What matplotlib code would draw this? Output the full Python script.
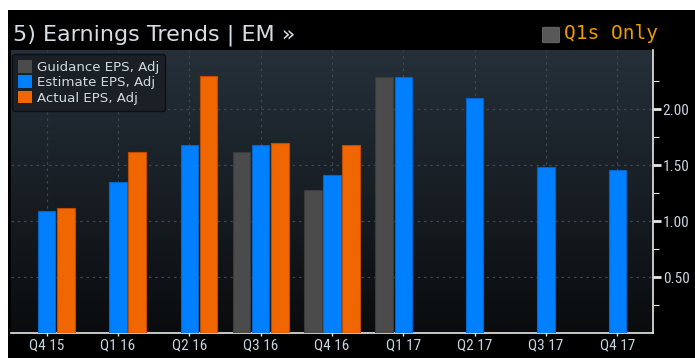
import numpy as np
import matplotlib
matplotlib.use("Agg")
import matplotlib.pyplot as plt
from matplotlib import font_manager
from matplotlib.patches import Rectangle, FancyBboxPatch, Patch

# Chart data
quarters = ["Q4 15", "Q1 16", "Q2 16", "Q3 16", "Q4 16", "Q1 17", "Q2 17", "Q3 17", "Q4 17"]
guidance = [np.nan, np.nan, np.nan, 1.62, 1.28, 2.29, np.nan, np.nan, np.nan]
estimate = [1.09, 1.35, 1.68, 1.68, 1.41, 2.29, 2.10, 1.48, 1.46]
actual = [1.12, 1.62, 2.30, 1.70, 1.68, np.nan, np.nan, np.nan, np.nan]
y_ticks = [0.5, 1.0, 1.5, 2.0]
series_names = ["Guidance EPS, Adj", "Estimate EPS, Adj", "Actual EPS, Adj"]

# pick a narrow font if one is around (tick labels)
names = {f.name for f in font_manager.fontManager.ttflist}
narrow = [n for n in ["Liberation Sans Narrow", "Roboto Condensed", "Open Sans Condensed"] if n in names]
plt.rcParams["font.family"] = narrow + ["DejaVu Sans"]
plt.rcParams["font.stretch"] = "condensed"

W, H = 695, 358
fig = plt.figure(figsize=(W / 100, H / 100), dpi=100, facecolor="white")

# black terminal panel (white strip on top and left like the screenshot)
fig.patches.append(Rectangle((8 / W, 0), 1 - 8 / W, (H - 10) / H,
                             transform=fig.transFigure, facecolor="black",
                             edgecolor="none", zorder=-5))

ax = fig.add_axes([11 / W, 25 / H, (653 - 11) / W, (333 - 50) / H])
ymax = 2.53
x = np.arange(len(quarters))

# gradient background
grad = np.linspace(0, 1, 256).reshape(-1, 1)
top = np.array([0x25, 0x30, 0x3a]) / 255
bot = np.array([0x0a, 0x0c, 0x0e]) / 255
img = bot + (top - bot) * grad[:, :, None]
ax.imshow(img, extent=[-0.5, len(quarters) - 0.5, 0, ymax], origin="lower",
          aspect="auto", zorder=0)

w = 0.245
off = 0.268
ax.bar(x - off, guidance, w, color="#4b4b4b", edgecolor="#3a3a3a", linewidth=0.8, zorder=3)
ax.bar(x, estimate, w, color="#0080ff", edgecolor="#0066cc", linewidth=0.8, zorder=3)
ax.bar(x + off, actual, w, color="#f06600", edgecolor="#c04c00", linewidth=0.8, zorder=3)

ax.set_xlim(-0.5, len(quarters) - 0.5)
ax.set_ylim(0, ymax)
ax.set_facecolor("black")

for s in ["left", "top"]:
    ax.spines[s].set_visible(False)
ax.spines["right"].set_color("#e8e8e8")
ax.spines["bottom"].set_color("#e8e8e8")
ax.spines["right"].set_linewidth(1.2)
ax.spines["bottom"].set_linewidth(1.2)

ax.yaxis.tick_right()
ax.set_yticks(y_ticks)
ax.set_yticklabels([f"{v:.2f}" for v in y_ticks])
ax.set_yticks(np.arange(0.25, ymax, 0.5), minor=True)
ax.tick_params(axis="y", which="major", length=6, width=2, color="#e8e8e8",
               labelcolor="#c8d4e0", labelsize=11, pad=1)
ax.tick_params(axis="y", which="minor", length=4, width=0.8, color="#e8e8e8")
ax.set_xticks(x)
ax.set_xticklabels(quarters)
ax.tick_params(axis="x", length=5, width=1, color="#e8e8e8", direction="inout",
               labelcolor="#c8d4e0", labelsize=11, pad=1)

ax.grid(True, which="major", color="#3c4650", linestyle=(0, (2, 3)), linewidth=0.9, zorder=1)

handles = [Patch(facecolor=c, edgecolor="none") for c in ["#4b4b4b", "#0080ff", "#f06600"]]
leg = ax.legend(handles, series_names, loc="upper left", bbox_to_anchor=(0.0, 0.99),
                frameon=True, prop={"family": "DejaVu Sans", "size": 9.6, "stretch": "normal"},
                handlelength=1.05, handleheight=1.05,
                handletextpad=0.35, labelspacing=0.12, borderpad=0.45, borderaxespad=0.1)
leg.get_frame().set_facecolor("#1b2027")
leg.get_frame().set_edgecolor("#0d0f12")
leg.get_frame().set_alpha(1)
for t in leg.get_texts():
    t.set_color("#d0d8e0")

# header
fig.text(13 / W, 1 - 41 / H, "5) Earnings Trends | EM \u00bb", color="#d6dde4",
         family="DejaVu Sans", stretch="normal", fontsize=16, va="baseline", ha="left")
fig.patches.append(FancyBboxPatch((544 / W, 1 - 42 / H), 14 / W, 14 / H,
                                  boxstyle="round,pad=0.002", transform=fig.transFigure,
                                  facecolor="#585858", edgecolor="#707070", linewidth=0.6))
fig.text(564 / W, 1 - 39 / H, "Q1s Only", color="#eb9a00", family="DejaVu Sans Mono",
         fontsize=14, va="baseline", ha="left")

fig.savefig("out.png", dpi=100, facecolor="white")
